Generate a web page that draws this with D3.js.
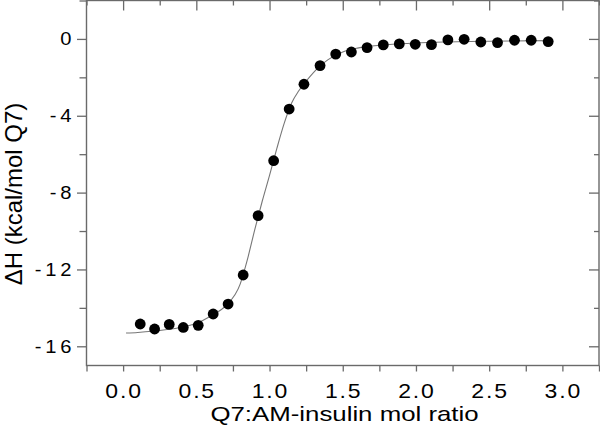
<!DOCTYPE html>
<html>
<head>
<meta charset="utf-8">
<script src="https://cdn.jsdelivr.net/npm/d3@7"></script>
<style>
  html, body { margin: 0; padding: 0; background: #fff; }
  svg { display: block; }
  text { font-family: "Liberation Sans", Arial, Helvetica, sans-serif; fill: #000; }
</style>
</head>
<body>
<script>
// ---- data ----
const molRatio = [0.117,0.215,0.315,0.411,0.513,0.615,0.717,0.820,0.922,1.028,1.134,1.235,1.345,1.452,1.559,1.666,1.777,1.886,1.995,2.106,2.218,2.329,2.443,2.557,2.673,2.787,2.903];
const deltaH   = [-14.84,-15.10,-14.86,-15.02,-14.91,-14.32,-13.80,-12.29,-9.20,-6.34,-3.65,-2.36,-1.39,-0.79,-0.68,-0.45,-0.31,-0.26,-0.28,-0.30,-0.05,-0.02,-0.16,-0.19,-0.07,-0.07,-0.14];

const fitRatio = [0.02,0.1,0.2,0.3,0.4,0.5,0.6,0.7,0.8,0.85,0.9,0.95,1.0,1.05,1.1,1.15,1.2,1.25,1.3,1.35,1.4,1.5,1.6,1.7,1.8,2.0,2.2,2.5,2.9];
const fitDH    = [-15.31,-15.28,-15.22,-15.13,-15.01,-14.80,-14.42,-13.90,-12.75,-11.45,-9.90,-8.45,-7.10,-5.70,-4.40,-3.35,-2.70,-2.20,-1.75,-1.38,-1.08,-0.68,-0.48,-0.37,-0.30,-0.21,-0.16,-0.12,-0.09];

const xTickValues = [0,0.5,1,1.5,2,2.5,3];
const xTickLabels = ["0.0","0.5","1.0","1.5","2.0","2.5","3.0"];
const yTickValues = [0,-4,-8,-12,-16];
const yTickLabels = ["0","-4","-8","-12","-16"];
const xMinorValues = [-0.25,0.25,0.75,1.25,1.75,2.25,2.75,3.25];
const yMinorValues = [2,-2,-6,-10,-14];

const xTitle = "Q7:AM-insulin mol ratio";
const yTitle = "ΔH (kcal/mol Q7)";

// ---- layout ----
const W = 600, H = 432;
const mLeft = 86.5, mRight = 599, mTop = 0.5, mBottom = 365.5;
const axisColor = "#6a6a6a";

const svg = d3.select("body").append("svg").attr("width", W).attr("height", H);

const x = d3.scaleLinear().domain([-0.25, 3.25]).range([mLeft, mRight]);
const y = d3.scaleLinear().domain([-17, 2]).range([mBottom, mTop]);

function styleAxis(g) {
  g.select(".domain").remove();
  g.selectAll(".tick line").attr("stroke", axisColor).attr("stroke-width", 1.3);
  g.selectAll(".tick text").remove();
}

// bottom: all ticks outward
svg.append("g").attr("transform", `translate(0,${mBottom})`)
  .call(d3.axisBottom(x).tickValues(xTickValues.concat(xMinorValues)).tickSize(6).tickFormat(""))
  .call(styleAxis);
// top: inward
svg.append("g").attr("transform", `translate(0,${mTop})`)
  .call(d3.axisTop(x).tickValues(xTickValues).tickSize(-10).tickFormat(""))
  .call(styleAxis);
svg.append("g").attr("transform", `translate(0,${mTop})`)
  .call(d3.axisTop(x).tickValues(xMinorValues).tickSize(-5).tickFormat(""))
  .call(styleAxis);
// left: outward
svg.append("g").attr("transform", `translate(${mLeft},0)`)
  .call(d3.axisLeft(y).tickValues(yTickValues).tickSize(9.5).tickFormat(""))
  .call(styleAxis);
svg.append("g").attr("transform", `translate(${mLeft},0)`)
  .call(d3.axisLeft(y).tickValues(yMinorValues).tickSize(7).tickFormat(""))
  .call(styleAxis);
// right: inward
svg.append("g").attr("transform", `translate(${mRight},0)`)
  .call(d3.axisRight(y).tickValues(yTickValues).tickSize(-10).tickFormat(""))
  .call(styleAxis);
svg.append("g").attr("transform", `translate(${mRight},0)`)
  .call(d3.axisRight(y).tickValues(yMinorValues).tickSize(-5).tickFormat(""))
  .call(styleAxis);

// frame
svg.append("rect")
  .attr("x", mLeft).attr("y", mTop)
  .attr("width", mRight - mLeft).attr("height", mBottom - mTop)
  .attr("fill", "none").attr("stroke", axisColor).attr("stroke-width", 1.4);

// tick labels (source font renders wide; emulate with a horizontal stretch)
const xs = 1.15, ls = 1.6;
svg.append("g").selectAll("text").data(xTickValues).join("text")
  .attr("transform", d => `translate(${x(d) + ls * xs / 2},397.5) scale(${xs},1)`)
  .attr("text-anchor", "middle")
  .attr("font-size", 20)
  .attr("letter-spacing", ls + "px")
  .text((d, i) => xTickLabels[i]);

const ys = 1.12, yls = 3.4;
svg.append("g").selectAll("text").data(yTickValues).join("text")
  .attr("transform", d => `translate(${71.5 + yls * ys},${y(d)}) scale(${ys},1)`)
  .attr("dy", "0.36em")
  .attr("text-anchor", "end")
  .attr("font-size", 18)
  .attr("letter-spacing", yls + "px")
  .text((d, i) => yTickLabels[i]);

// axis titles
svg.append("text")
  .attr("transform", `translate(344.5,421) scale(1.26,1)`)
  .attr("text-anchor", "middle")
  .attr("font-size", 20.5)
  .text(xTitle);

svg.append("text")
  .attr("transform", `translate(22,194) rotate(-90)`)
  .attr("text-anchor", "middle")
  .attr("font-size", 24)
  .text(yTitle);

// fit line
const fitData = fitRatio.map((r, i) => [r, fitDH[i]]);
svg.append("path")
  .datum(fitData)
  .attr("fill", "none")
  .attr("stroke", "#777")
  .attr("stroke-width", 1.1)
  .attr("d", d3.line().x(d => x(d[0])).y(d => y(d[1])).curve(d3.curveMonotoneX));

// points
svg.append("g").selectAll("circle").data(molRatio).join("circle")
  .attr("cx", d => x(d))
  .attr("cy", (d, i) => y(deltaH[i]))
  .attr("r", 5.4)
  .attr("fill", "#000");
</script>
</body>
</html>
